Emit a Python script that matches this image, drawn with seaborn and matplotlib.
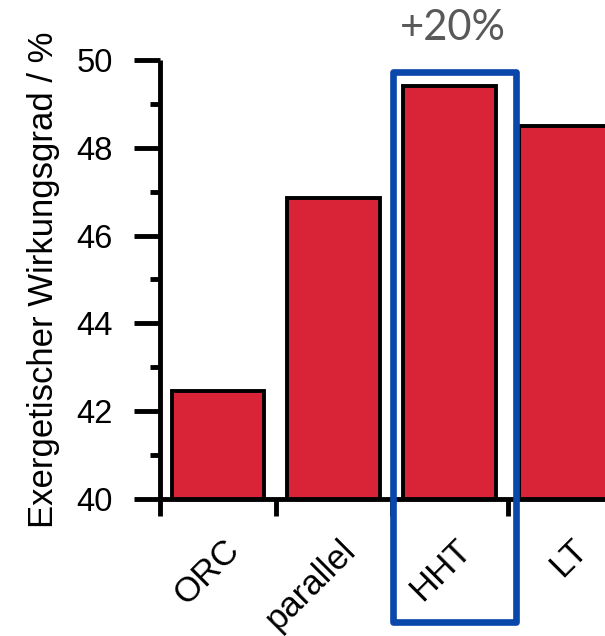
import matplotlib
matplotlib.use("Agg")
import matplotlib.pyplot as plt
import seaborn as sns
from matplotlib.patches import Rectangle
from matplotlib.ticker import MultipleLocator

# chart values
categories = ["ORC", "parallel", "HHT", "LT"]
efficiency = [42.45, 46.85, 49.4, 48.5]
highlight = "HHT"
highlight_text = "+20%"

sns.set_style("ticks", {"axes.edgecolor": "black", "axes.labelcolor": "black",
                        "xtick.color": "black", "ytick.color": "black",
                        "text.color": "black"})
plt.rcParams["font.family"] = ["Liberation Sans", "DejaVu Sans"]

fig = plt.figure(figsize=(6.05, 6.36), dpi=100)
ax = fig.add_axes([160 / 605, 1 - 499 / 636, 1 - 160 / 605, (499 - 60) / 636])

sns.barplot(x=categories, y=efficiency, order=categories, color="#D92438",
            saturation=1, edgecolor="black", linewidth=2.8, width=0.8, ax=ax)

ax.set_ylim(40, 50)
ax.set_xlim(-0.5, 3.34)
ax.yaxis.set_major_locator(MultipleLocator(2))
ax.yaxis.set_minor_locator(MultipleLocator(1))

# ticks on x at category borders, rotated labels (invisible minor ticks)
# nudged a little to the right of each bar centre
ax.set_xticks([i - 0.5 for i in range(len(categories))])
ax.set_xticklabels([])
ax.set_xticks([i + 0.14 for i in range(len(categories))], minor=True)
ax.set_xticklabels(categories, minor=True, rotation=45, ha="right",
                   va="center", rotation_mode="anchor", fontsize=25)
ax.tick_params(axis="x", which="major", length=12, width=3.5, direction="out")
ax.tick_params(axis="x", which="minor", length=0, pad=33)
ax.tick_params(axis="y", which="major", length=19, width=3.5, labelsize=23.5, pad=15)
ax.tick_params(axis="y", which="minor", length=7.5, width=3.5)

ax.set_xlabel("")
ax.set_ylabel("Exergetischer Wirkungsgrad / %", fontsize=25, labelpad=12)

sns.despine(ax=ax, top=True, right=True)
for side in ["left", "bottom"]:
    ax.spines[side].set_linewidth(3.5)
    ax.spines[side].set_capstyle("butt")

# highlight box around the best variant
hi = categories.index(highlight)
box = Rectangle((hi - 0.49, 37.2), 1.06, 49.73 - 37.2, fill=False,
                edgecolor="#0A47AA", linewidth=4.8, joinstyle="round",
                clip_on=False, zorder=5)
ax.add_patch(box)
ax.text(hi + 0.03, 50.73, highlight_text, ha="center", va="center",
        fontsize=30, color="#595959", family=["Lato", "DejaVu Sans"])

fig.savefig("out.png", dpi=100)
